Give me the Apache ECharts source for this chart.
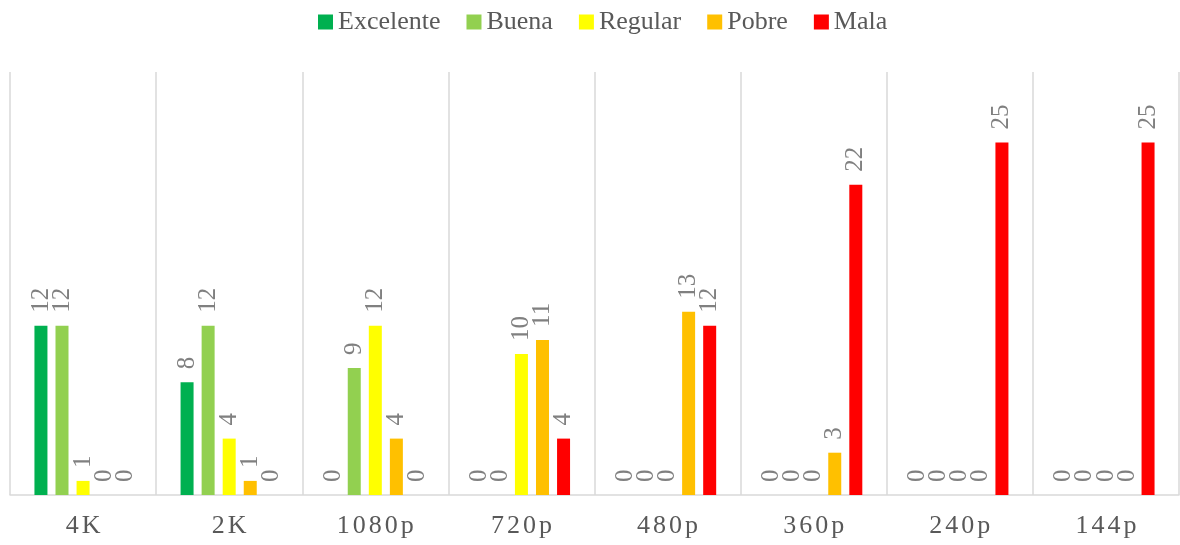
<!DOCTYPE html>
<html>
<head>
<meta charset="utf-8">
<script src="https://cdn.jsdelivr.net/npm/echarts@6/dist/echarts.min.js"></script>
<style>
html,body{margin:0;padding:0;background:#fff;}
#chart{width:1180px;height:545px;}
</style>
</head>
<body>
<div id="chart"></div>
<script>
// Resolutions along the x axis
const categories = ['4K', '2K', '1080p', '720p', '480p', '360p', '240p', '144p'];

// Count of ratings per quality level
const excelente = [12, 8, 0, 0, 0, 0, 0, 0];
const buena     = [12, 12, 9, 0, 0, 0, 0, 0];
const regular   = [1, 4, 12, 10, 0, 0, 0, 0];
const pobre     = [0, 1, 4, 11, 13, 3, 0, 0];
const mala      = [0, 0, 0, 4, 12, 22, 25, 25];

const seriesDefs = [
  { name: 'Excelente', data: excelente, color: '#00b050' },
  { name: 'Buena',     data: buena,     color: '#92d050' },
  { name: 'Regular',   data: regular,   color: '#ffff00' },
  { name: 'Pobre',     data: pobre,     color: '#ffc000' },
  { name: 'Mala',      data: mala,      color: '#ff0000' }
];

const serif = '"Liberation Serif", "Times New Roman", serif';

// Spread the characters of a category label apart (expanded letter spacing)
function spaced(text) {
  const chars = text.split('');
  return chars.map((c, i) => (i < chars.length - 1 ? '{s|' + c + '}' : '{e|' + c + '}')).join('');
}

const chart = echarts.init(document.getElementById('chart'), null, { renderer: 'canvas' });

chart.setOption({
  animation: false,
  legend: {
    top: 4,
    left: 313,
    itemWidth: 15,
    itemHeight: 15,
    itemGap: 26,
    icon: 'rect',
    textStyle: { fontFamily: serif, fontSize: 26, color: '#595959' },
    data: seriesDefs.map(s => s.name)
  },
  grid: { left: 10, right: 1, top: 72, bottom: 50, containLabel: false },
  xAxis: {
    type: 'category',
    data: categories,
    boundaryGap: true,
    axisLine: { show: true, lineStyle: { color: '#d9d9d9', width: 1.5 } },
    axisTick: { show: false },
    splitLine: { show: true, interval: 0, lineStyle: { color: '#d9d9d9', width: 1.5 } },
    axisLabel: {
      interval: 0,
      margin: 18,
      formatter: spaced,
      rich: {
        s: { fontFamily: serif, fontSize: 26, color: '#595959', padding: [0, 3, 0, 0] },
        e: { fontFamily: serif, fontSize: 26, color: '#595959' }
      }
    }
  },
  yAxis: {
    type: 'value',
    min: 0,
    max: 30,
    interval: 5,
    show: false,
    splitLine: { show: false }
  },
  series: seriesDefs.map(s => ({
    name: s.name,
    type: 'bar',
    data: s.data,
    barWidth: 13,
    barGap: '62%',
    itemStyle: { color: s.color },
    label: {
      show: true,
      position: 'top',
      rotate: 90,
      align: 'left',
      verticalAlign: 'middle',
      distance: 13,
      fontFamily: serif,
      fontSize: 25,
      color: '#808080'
    }
  }))
});
</script>
</body>
</html>
